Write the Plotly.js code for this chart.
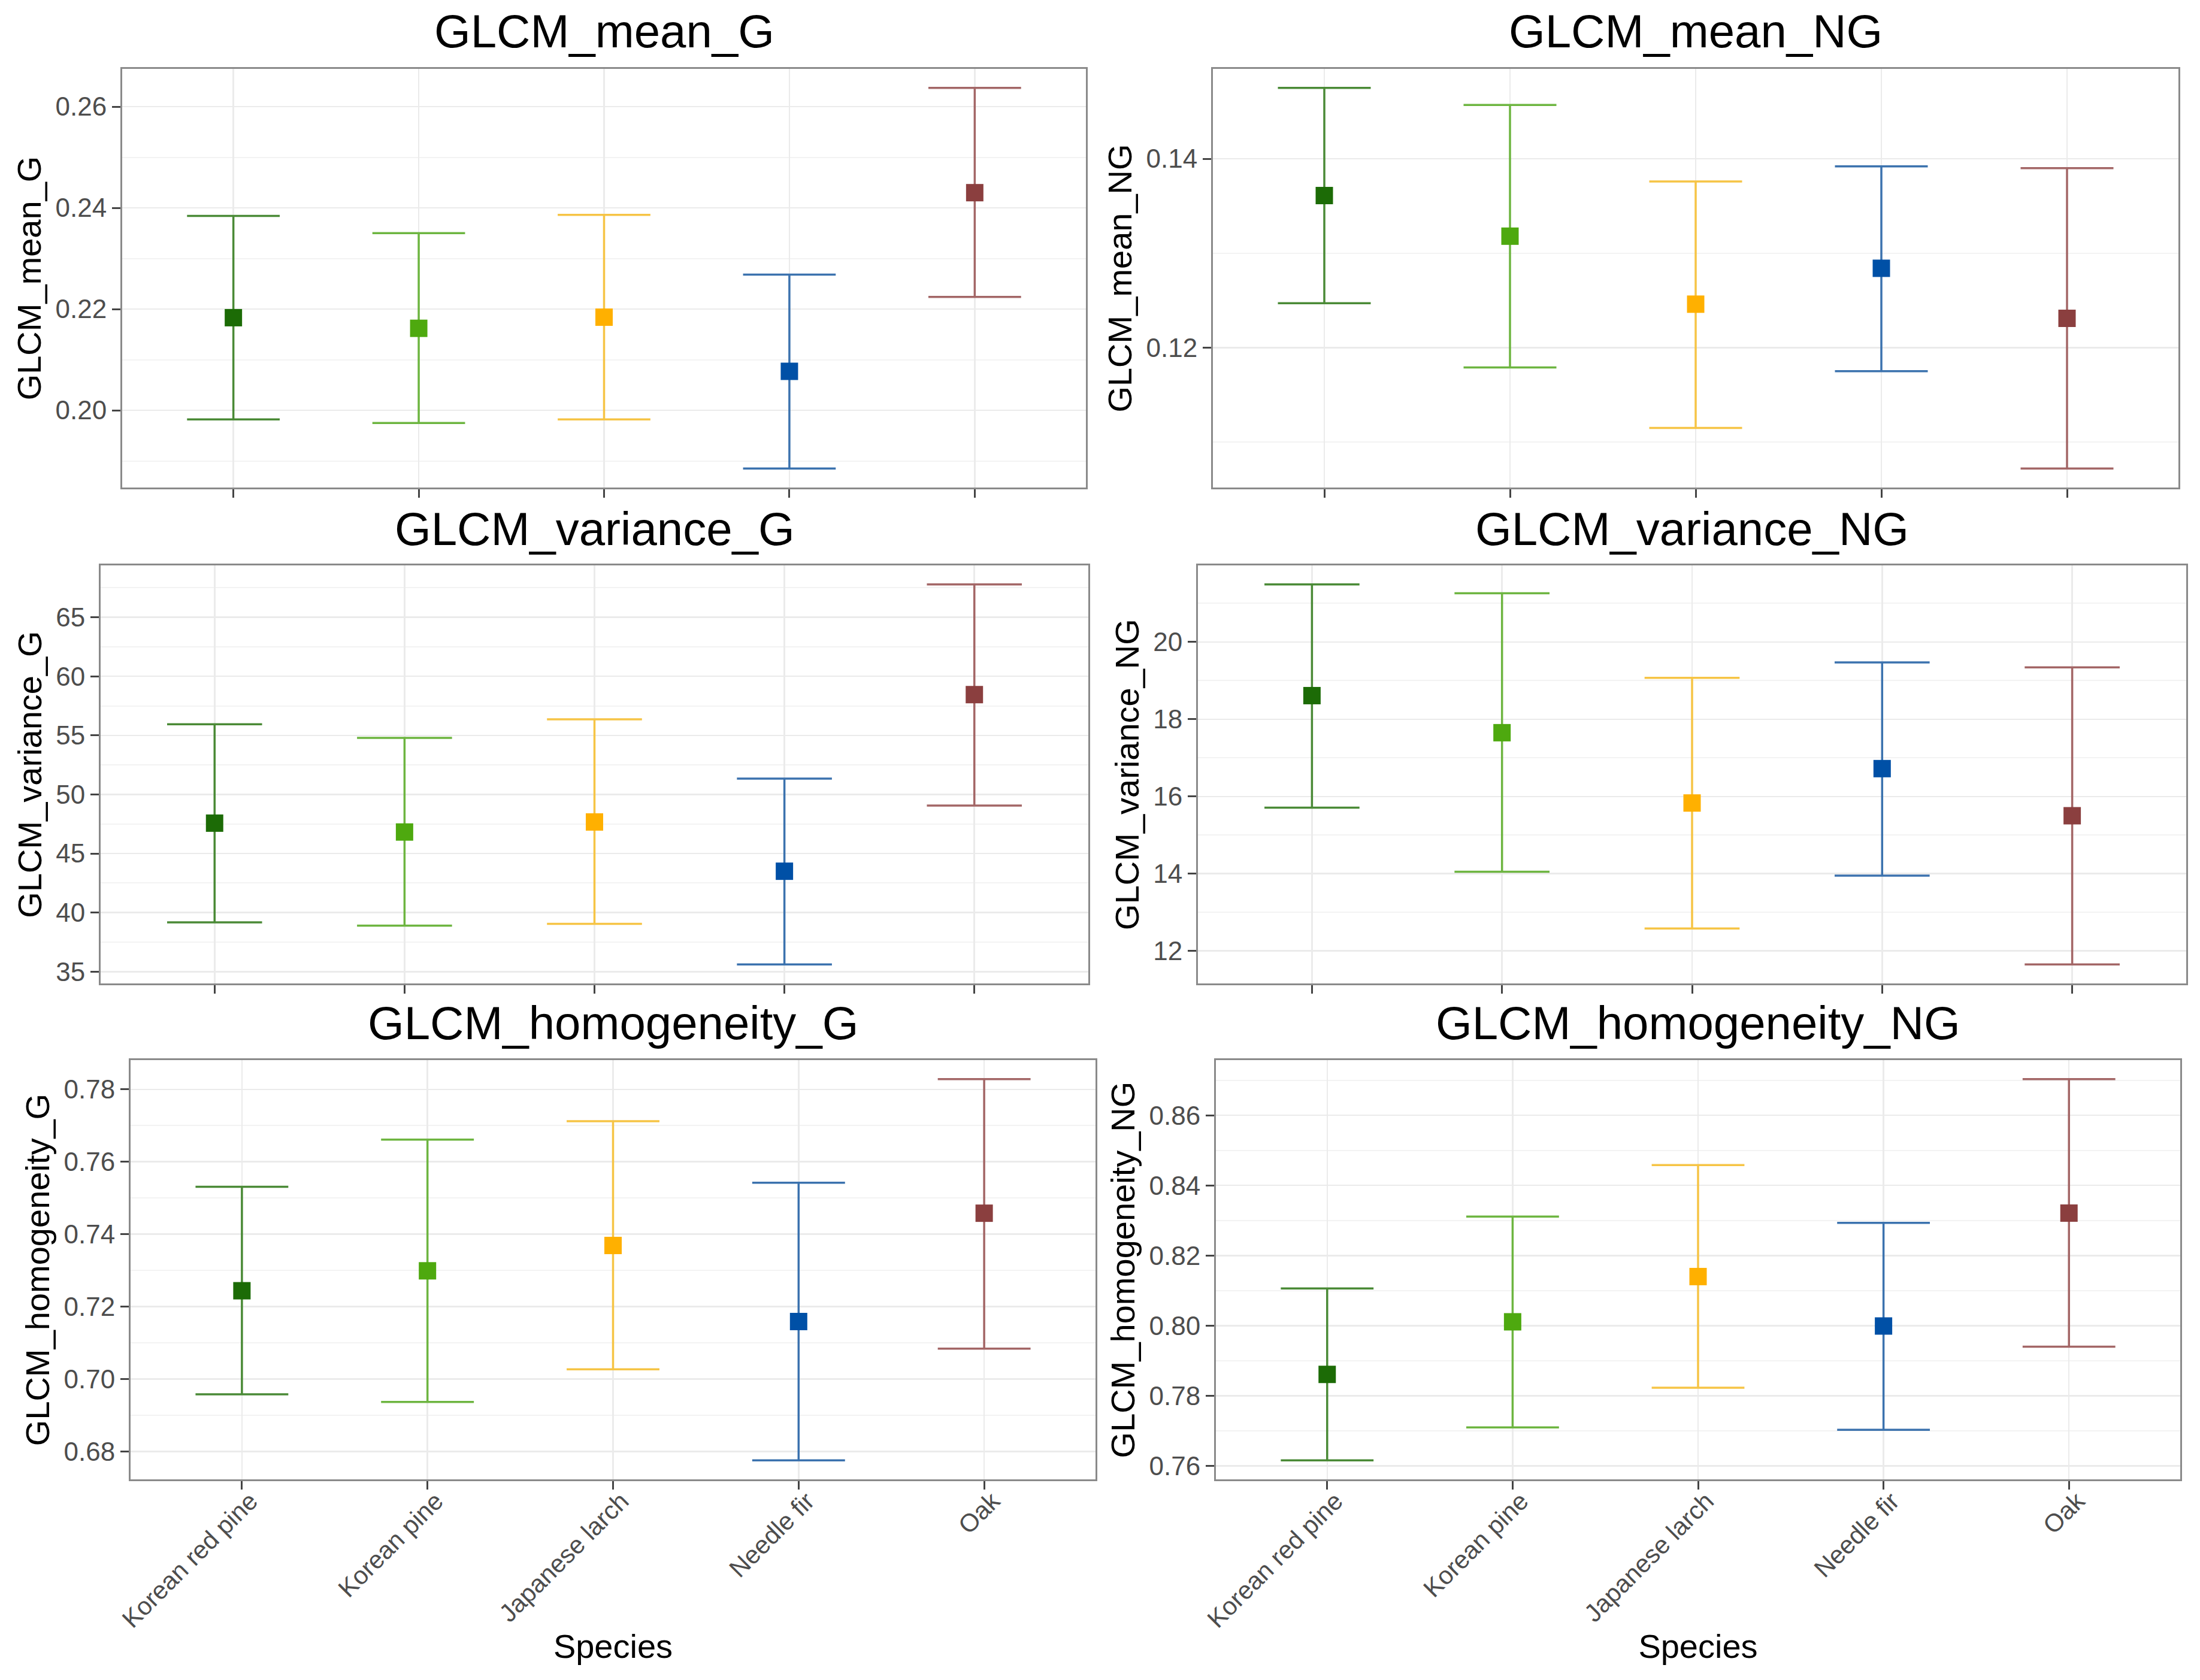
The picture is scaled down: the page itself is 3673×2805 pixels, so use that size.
<!DOCTYPE html>
<html>
<head>
<meta charset="utf-8">
<script src="https://cdn.plot.ly/plotly-3.0.1.min.js"></script>
<style>
html,body{margin:0;padding:0;background:#fff;}
#chart{width:3673px;height:2805px;}
</style>
</head>
<body>
<div id="chart"></div>
<script>
// ---------- data ----------
const species = ["Korean red pine", "Korean pine", "Japanese larch", "Needle fir", "Oak"];

const meanG_mean  = [0.2183, 0.2162, 0.2184, 0.2077, 0.2430];
const meanG_lower = [0.1982, 0.1975, 0.1982, 0.1885, 0.2224];
const meanG_upper = [0.2384, 0.2350, 0.2386, 0.2268, 0.2637];

const meanNG_mean  = [0.1361, 0.1318, 0.1246, 0.1284, 0.1231];
const meanNG_lower = [0.1247, 0.1179, 0.1115, 0.1175, 0.1072];
const meanNG_upper = [0.1475, 0.1457, 0.1376, 0.1392, 0.1390];

const varG_mean  = [47.57, 46.82, 47.67, 43.50, 58.45];
const varG_lower = [39.17, 38.90, 39.04, 35.61, 49.06];
const varG_upper = [55.94, 54.79, 56.36, 51.34, 67.78];

const varNG_mean  = [18.61, 17.65, 15.83, 16.72, 15.50];
const varNG_lower = [15.71, 14.05, 12.58, 13.95, 11.65];
const varNG_upper = [21.49, 21.26, 19.07, 19.47, 19.34];

const homG_mean  = [0.7244, 0.7299, 0.7369, 0.7159, 0.7458];
const homG_lower = [0.6958, 0.6937, 0.7027, 0.6776, 0.7084];
const homG_upper = [0.7531, 0.7661, 0.7712, 0.7542, 0.7828];

const homNG_mean  = [0.7861, 0.8011, 0.8140, 0.7999, 0.8321];
const homNG_lower = [0.7616, 0.7710, 0.7823, 0.7703, 0.7940];
const homNG_upper = [0.8106, 0.8311, 0.8458, 0.8293, 0.8703];

const panelTitles = ["GLCM_mean_G", "GLCM_mean_NG", "GLCM_variance_G", "GLCM_variance_NG", "GLCM_homogeneity_G", "GLCM_homogeneity_NG"];

// ---------- styles ----------
const markerColors = ["#1c6b06", "#4ea90f", "#ffb000", "#0050a6", "#8b3f3f"];
const barColors    = ["#4a8a36", "#6db540", "#f6c445", "#3b72ae", "#a36666"];

const W = 3673, H = 2805;
// plot boxes in pixels: [left, right, top, bottom]
const boxes = [
  [204, 1813, 115, 814],
  [2025, 3637, 115, 814],
  [168, 1817, 944, 1642],
  [2000, 3650, 944, 1642],
  [218, 1829, 1770, 2470],
  [2030, 3640, 1770, 2470]
];
const panels = [
  {m: meanG_mean, lo: meanG_lower, hi: meanG_upper, dtick: 0.02, fmt: ".2f"},
  {m: meanNG_mean, lo: meanNG_lower, hi: meanNG_upper, dtick: 0.02, fmt: ".2f"},
  {m: varG_mean, lo: varG_lower, hi: varG_upper, dtick: 5, fmt: "d"},
  {m: varNG_mean, lo: varNG_lower, hi: varNG_upper, dtick: 2, fmt: "d"},
  {m: homG_mean, lo: homG_lower, hi: homG_upper, dtick: 0.02, fmt: ".2f"},
  {m: homNG_mean, lo: homNG_lower, hi: homNG_upper, dtick: 0.02, fmt: ".2f"}
];

const traces = [];
const layout = {
  width: W, height: H,
  margin: {l: 0, r: 0, t: 0, b: 0},
  paper_bgcolor: "#ffffff",
  plot_bgcolor: "#ffffff",
  showlegend: false,
  font: {family: "Liberation Sans, Arial, sans-serif"},
  annotations: []
};

const titleY = [52, 52, 883, 883, 1708, 1708];

panels.forEach((p, i) => {
  const k = i + 1;
  const xa = "x" + (k === 1 ? "" : k);
  const ya = "y" + (k === 1 ? "" : k);
  const b = boxes[i];
  const pw = b[1] - b[0];
  const capHalf = 0.25 * pw / 5.2;
  for (let s = 0; s < species.length; s++) {
    traces.push({
      type: "scatter", mode: "markers",
      x: [species[s]], y: [p.m[s]],
      xaxis: xa, yaxis: ya,
      marker: {symbol: "square", size: 29, color: markerColors[s], line: {width: 0}},
      error_y: {
        type: "data", symmetric: false,
        array: [p.hi[s] - p.m[s]], arrayminus: [p.m[s] - p.lo[s]],
        color: barColors[s], thickness: 3.5, width: capHalf
      },
      hoverinfo: "x+y"
    });
  }
  const lo = Math.min(...p.lo), hi = Math.max(...p.hi);
  const pad = (hi - lo) * 0.05;
  const bottomRow = i >= 4;
  layout["xaxis" + (k === 1 ? "" : k)] = {
    domain: [b[0] / W, b[1] / W],
    anchor: ya,
    type: "category",
    categoryorder: "array", categoryarray: species,
    range: [-0.6, 4.6],
    showgrid: true, gridcolor: "#ebebeb", gridwidth: 2.5,
    showline: true, mirror: true, linecolor: "#8a8a8a", linewidth: 3,
    ticks: "outside", ticklen: 14, tickwidth: 3, tickcolor: "#444444",
    showticklabels: bottomRow,
    tickangle: -45,
    ticklabelstandoff: -22,
    ticklabelshift: 14,
    tickfont: {size: 42, color: "#4d4d4d"},
    zeroline: false,
    title: bottomRow ? {text: "Species", font: {size: 56, color: "#000000"}, standoff: 0} : {text: ""}
  };
  layout["yaxis" + (k === 1 ? "" : k)] = {
    domain: [1 - b[3] / H, 1 - b[2] / H],
    anchor: xa,
    range: [lo - pad, hi + pad],
    dtick: p.dtick, tick0: 0,
    tickformat: p.fmt,
    showgrid: true, gridcolor: "#ebebeb", gridwidth: 2.5,
    minor: {dtick: p.dtick / 2, tick0: 0, showgrid: true, gridcolor: "#f3f3f3", gridwidth: 2, ticks: ""},
    showline: true, mirror: true, linecolor: "#8a8a8a", linewidth: 3,
    ticks: "outside", ticklen: 14, tickwidth: 3, tickcolor: "#444444",
    tickfont: {size: 44, color: "#4d4d4d"},
    zeroline: false,
    title: {text: panelTitles[i], font: {size: 56, color: "#000000"}, standoff: 6}
  };
  layout.annotations.push({
    text: panelTitles[i], xref: "paper", yref: "paper",
    x: (b[0] + b[1]) / 2 / W, y: 1 - titleY[i] / H,
    xanchor: "center", yanchor: "middle", showarrow: false,
    font: {size: 78, color: "#000000"}
  });
});

Plotly.newPlot("chart", traces, layout, {staticPlot: true});
</script>
</body>
</html>
